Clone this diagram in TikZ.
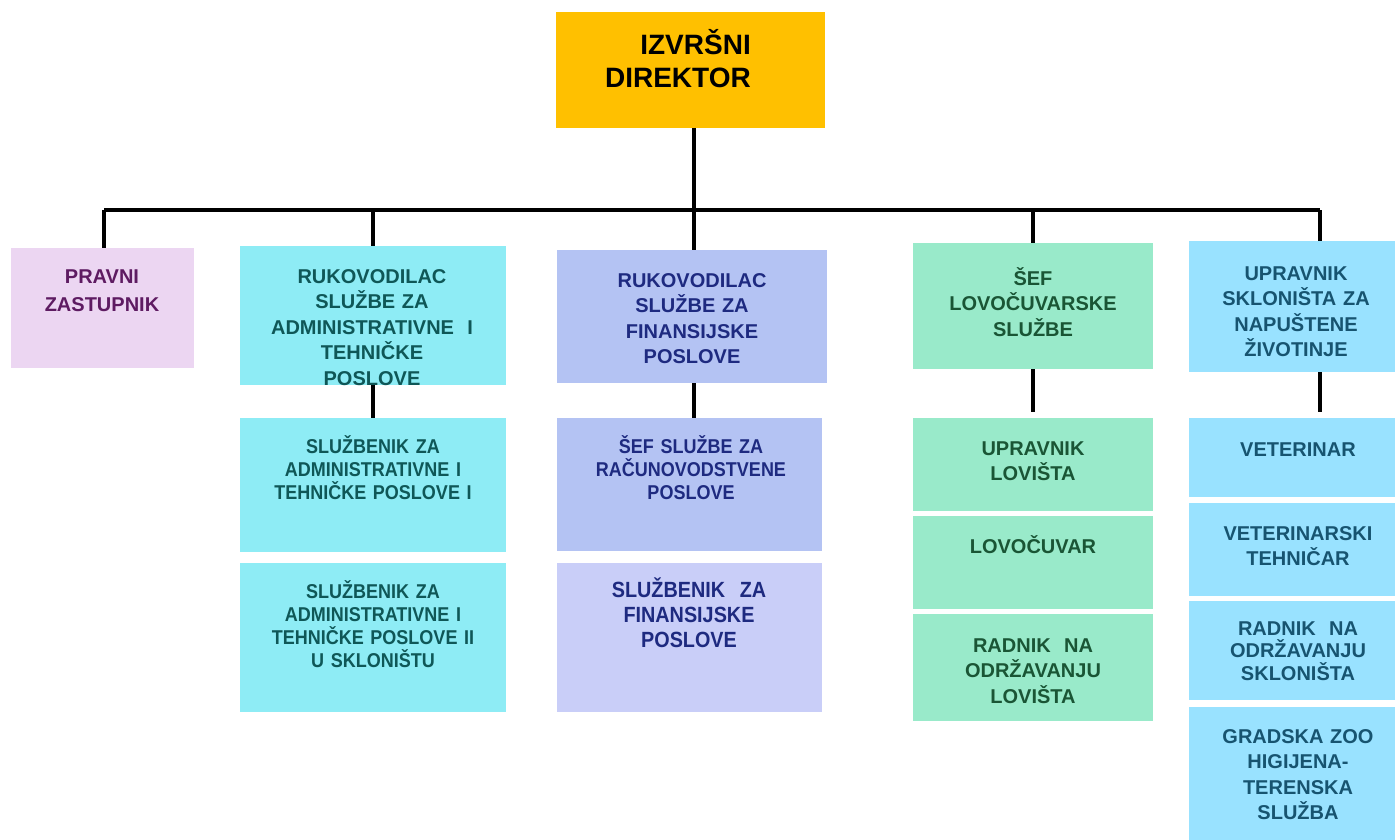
\documentclass[tikz,border=0pt]{standalone}
\usepackage{fontspec}
\setmainfont{Liberation Sans}
\newfontfamily\narrowfont[FakeStretch=0.9]{Liberation Sans}
\usepackage{tikz}
\usepackage{xcolor}
\definecolor{dirfill}{HTML}{FFC000}
\definecolor{pravfill}{HTML}{ECD6F2}
\definecolor{pravtxt}{HTML}{5E1B62}
\definecolor{admfill}{HTML}{8EECF5}
\definecolor{admtxt}{HTML}{0F5757}
\definecolor{finfill}{HTML}{B4C3F3}
\definecolor{finfillb}{HTML}{C9CEF8}
\definecolor{fintxt}{HTML}{1E2A80}
\definecolor{lovfill}{HTML}{99EACA}
\definecolor{lovtxt}{HTML}{1A5535}
\definecolor{sklfill}{HTML}{99E2FF}
\definecolor{skltxt}{HTML}{175470}
\tikzstyle{block} = [rectangle, anchor=north west, inner sep=0pt, draw=none]
\tikzstyle{boxtext} = [anchor=base, inner sep=0pt, align=center, font=\bfseries\fontsize{20}{25.5}\selectfont]
\tikzstyle{narrowtext} = [boxtext, font=\narrowfont\bfseries\fontsize{20}{23.3}\selectfont]
\tikzstyle{conn} = [draw, line width=4.5pt]

\begin{document}
\begin{tikzpicture}[x=1pt, y=-1pt]
            \useasboundingbox (0,0) rectangle (1395,840);
                % boxes
                \node[block, fill=dirfill, minimum width=269, minimum height=116] (dir) at (556,12) {};
                \node[block, fill=pravfill, minimum width=183, minimum height=120] (prav) at (11,248) {};
                \node[block, fill=admfill, minimum width=266, minimum height=139] (adm) at (240,246) {};
                \node[block, fill=finfill, minimum width=270, minimum height=133] (fin) at (557,250) {};
                \node[block, fill=lovfill, minimum width=240, minimum height=126] (lov) at (913,243) {};
                \node[block, fill=sklfill, minimum width=215, minimum height=131] (skl) at (1189,241) {};
                \node[block, fill=admfill, minimum width=266, minimum height=134] (admA) at (240,418) {};
                \node[block, fill=admfill, minimum width=266, minimum height=149] (admB) at (240,563) {};
                \node[block, fill=finfill, minimum width=265, minimum height=133] (finA) at (557,418) {};
                \node[block, fill=finfillb, minimum width=265, minimum height=149] (finB) at (557,563) {};
                \node[block, fill=lovfill, minimum width=240, minimum height=93] (lovA) at (913,418) {};
                \node[block, fill=lovfill, minimum width=240, minimum height=93] (lovB) at (913,516) {};
                \node[block, fill=lovfill, minimum width=240, minimum height=107] (lovC) at (913,614) {};
                \node[block, fill=sklfill, minimum width=215, minimum height=79] (sklA) at (1189,418) {};
                \node[block, fill=sklfill, minimum width=215, minimum height=93] (sklB) at (1189,503) {};
                \node[block, fill=sklfill, minimum width=215, minimum height=99] (sklC) at (1189,601) {};
                \node[block, fill=sklfill, minimum width=215, minimum height=140] (sklD) at (1189,707) {};
                % texts
                \node[boxtext, anchor=base east, align=right, text width=170pt, font=\bfseries\fontsize{28}{33}\selectfont] (dirtext) at (751,55) {IZVRŠNI\\DIREKTOR};
                \node[boxtext, text width=183pt, text=pravtxt, font=\bfseries\fontsize{20}{28}\selectfont] (pravtext) at (102,283) {PRAVNI\\ZASTUPNIK};
                \node[boxtext, text width=266pt, text=admtxt] (admtext) at (372,283) {RUKOVODILAC\\SLUŽBE ZA\\ADMINISTRATIVNE~~I\\TEHNIČKE\\POSLOVE};
                \node[boxtext, text width=270pt, text=fintxt] (fintext) at (692,287) {RUKOVODILAC\\SLUŽBE ZA\\FINANSIJSKE\\POSLOVE};
                \node[boxtext, text width=240pt, text=lovtxt] (lovtext) at (1033,285) {ŠEF\\LOVOČUVARSKE\\SLUŽBE};
                \node[boxtext, text width=215pt, text=skltxt] (skltext) at (1296,280) {UPRAVNIK\\SKLONIŠTA ZA\\NAPUŠTENE\\ŽIVOTINJE};
                \node[narrowtext, text width=266pt, text=admtxt] (admAtext) at (373,453) {SLUŽBENIK ZA\\ADMINISTRATIVNE I\\TEHNIČKE POSLOVE I};
                \node[narrowtext, text width=266pt, text=admtxt] (admBtext) at (373,598) {SLUŽBENIK ZA\\ADMINISTRATIVNE I\\TEHNIČKE POSLOVE II\\U SKLONIŠTU};
                \node[narrowtext, text width=265pt, text=fintxt] (finAtext) at (691,453) {ŠEF SLUŽBE ZA\\RAČUNOVODSTVENE\\POSLOVE};
                \node[narrowtext, text width=265pt, text=fintxt, font=\narrowfont\bfseries\fontsize{22}{25}\selectfont] (finBtext) at (689,597) {SLUŽBENIK~~ZA\\FINANSIJSKE\\POSLOVE};
                \node[boxtext, text width=240pt, text=lovtxt] (lovAtext) at (1033,455) {UPRAVNIK\\LOVIŠTA};
                \node[boxtext, text width=240pt, text=lovtxt] (lovBtext) at (1033,553) {LOVOČUVAR};
                \node[boxtext, text width=240pt, text=lovtxt] (lovCtext) at (1033,652) {RADNIK~~NA\\ODRŽAVANJU\\LOVIŠTA};
                \node[boxtext, text width=215pt, text=skltxt] (sklAtext) at (1298,456) {VETERINAR};
                \node[boxtext, text width=215pt, text=skltxt] (sklBtext) at (1298,540) {VETERINARSKI\\TEHNIČAR};
                \node[boxtext, text width=215pt, text=skltxt, font=\bfseries\fontsize{20}{22.5}\selectfont] (sklCtext) at (1298,635) {RADNIK~~NA\\ODRŽAVANJU\\SKLONIŠTA};
                \node[boxtext, text width=215pt, text=skltxt] (sklDtext) at (1298,743) {GRADSKA ZOO\\HIGIJENA-\\TERENSKA\\SLUŽBA};
                % connectors
                \coordinate (busL) at (104,210);
                \coordinate (busR) at (1320,210);
                \coordinate (busM) at (694,128);
                \path [conn] (busL) -- (busR);
                \path [conn] (busM) -- (busM |- fin.north);
                \path [conn] (busL) -- (busL |- prav.north);
                \path [conn] (adm.north |- busL) -- (adm.north);
                \path [conn] (lov.north |- busL) -- (lov.north);
                \path [conn] (busR) -- (busR |- skl.north);
                \path [conn] (adm.south) -- (admA.north);
                \path [conn] (busM |- fin.south) -- (busM |- finA.north);
                \path [conn] (lov.south) -- ([yshift=6pt]lov.south |- lovA.north);
                \path [conn] (busR |- skl.south) -- ([yshift=6pt]busR |- sklA.north);
            \end{tikzpicture}
\end{document}
